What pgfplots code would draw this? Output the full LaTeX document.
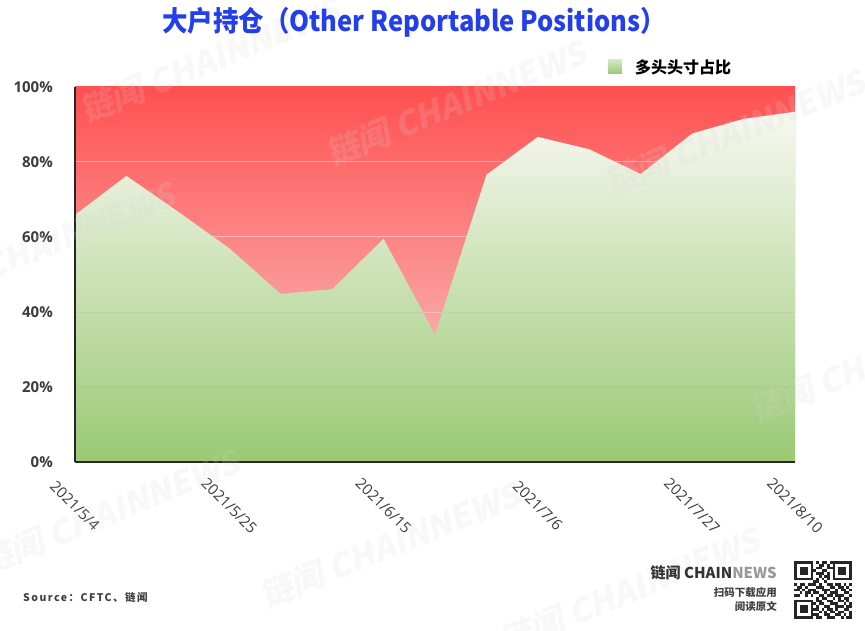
\documentclass[border=0pt]{standalone}
\usepackage{fontspec}
\usepackage{graphicx}
\usepackage{pgfplots}
\pgfplotsset{compat=1.18}
\setmainfont{Open Sans}
\newfontfamily\cjk{Noto Sans CJK SC}
\newfontfamily\srcfont{Noto Sans CJK SC}[LetterSpace=14]
\newfontfamily\wmfont{Noto Sans CJK SC}[FakeSlant=0.2]

\definecolor{titleblue}{RGB}{35,62,235}
\definecolor{redtop}{RGB}{255,80,80}
\definecolor{redbot}{RGB}{247,212,212}
\definecolor{greentop}{RGB}{248,248,241}
\definecolor{greenbot}{RGB}{154,201,116}
\definecolor{ticktext}{RGB}{60,60,60}
\definecolor{wm}{RGB}{215,215,215}

% weekly share of long positions (%)
\pgfplotstableread{
idx long
0  65.9
1  76.3
2  66.8
3  57.0
4  44.8
5  46.1
6  59.5
7  34.0
8  76.6
9  86.7
10 83.4
11 76.8
12 87.6
13 91.5
14 93.4
}\longdata

\pgfplotstableread{
idx total
0  100
14 100
}\totaldata

% QR-style module grid
\newcount\qrc
\newcount\qrr
\def\qm{2.76}
\def\qrparse#1{\ifx#1\relax\else
  \if1#1\fill (794+\the\qrc*\qm, 69-\the\qrr*\qm) rectangle ++(\qm,-\qm);\fi
  \advance\qrc by 1 \expandafter\qrparse\fi}
\newcommand\qrrow[1]{\qrc=0 \qrparse#1\relax\advance\qrr by 1 }

\begin{document}
\begin{tikzpicture}[x=1pt,y=1pt]
\fill[white] (0,0) rectangle (865,630);
\path[use as bounding box] (0,0) rectangle (865,630);

\begin{axis}[
  at={(75pt,168pt)}, anchor=south west,
  scale only axis, width=720pt, height=375pt,
  xmin=0, xmax=14, ymin=0, ymax=100,
  axis x line*=bottom, axis y line*=left,
  axis line style={line width=1.6pt, color=black!85, -},
  axis on top,
  major tick length=0pt,
  xtick={0,3,6,9,12,14},
  xticklabels={2021/5/4,2021/5/25,2021/6/15,2021/7/6,2021/7/27,2021/8/10},
  xticklabel style={yshift=-44pt, rotate=-45, anchor=center, inner sep=0pt,
    font=\fontsize{15}{15}\selectfont, text=ticktext},
  ytick={0,20,40,60,80,100},
  yticklabel={\pgfmathprintnumber{\tick}\%},
  yticklabel style={anchor=east, inner sep=0pt, xshift=-22pt,
    font=\bfseries\fontsize{15}{15}\selectfont, text=ticktext},
  /pgf/number format/assume math mode=true,
]
% short side fills the full height behind the long share
\addplot[draw=none, top color=redtop, bottom color=redbot]
  table[x=idx, y=total]{\totaldata} \closedcycle;
% horizontal grid lines
\pgfplotsinvokeforeach{20,40,60,80}{
  \addplot[white, opacity=0.4, line width=1pt] coordinates {(0,#1) (14,#1)};
}
% long share
\addplot[draw=none, top color=greentop, bottom color=greenbot]
  table[x=idx, y=long]{\longdata} \closedcycle;
% faint grid lines across the long share
\pgfplotsinvokeforeach{20,40}{
  \addplot[black, opacity=0.04, line width=1pt] coordinates {(0,#1) (14,#1)};
}
\end{axis}

% watermarks
\begin{scope}[opacity=0.17, wm]
\foreach \px/\py in {210/570, 456/527, 735/498, 45/385, 880/270, 110/118, 390/85, 630/40}{
  \node[rotate=22, font=\wmfont\bfseries\fontsize{33}{33}\selectfont] at (\px,\py) {链闻 CHAINNEWS};
}
\end{scope}

% title
\node[text=titleblue, font=\cjk\bfseries\fontsize{28}{28}\selectfont] at (414,608)
  {\scalebox{0.91}[1]{大户持仓（Other Reportable Positions）}};

% legend
\shade[top color=greenbot!45!white, bottom color=greenbot] (608,556) rectangle (622,570);
\node[anchor=west, inner sep=0pt, font=\cjk\bfseries\fontsize{16}{16}\selectfont] at (635,563) {多头头寸占比};

% source
\node[anchor=west, inner sep=0pt, text=black!75, font=\srcfont\bfseries\fontsize{10.5}{10.5}\selectfont] at (23,32) {Source：CFTC、链闻};

% brand block
\node[anchor=east, inner sep=0pt, font=\cjk\bfseries\fontsize{15}{15}\selectfont] at (777,57)
  {\textcolor{black!80}{链闻 CHAIN}\textcolor{black!40}{NEWS}};
\node[anchor=east, inner sep=0pt, text=black!75, font=\cjk\bfseries\fontsize{10.5}{10.5}\selectfont] at (777,38) {扫码下载应用};
\node[anchor=east, inner sep=0pt, text=black!75, font=\cjk\bfseries\fontsize{10.5}{10.5}\selectfont] at (777,24) {阅读原文};

\begin{scope}[black!85]
\qrr=0
\qrrow{111111101011011111111}
\qrrow{100000100110101000001}
\qrrow{101110101100111011101}
\qrrow{101110110011001011101}
\qrrow{101110101110101011101}
\qrrow{100000100101101000001}
\qrrow{111111101010101111111}
\qrrow{000000011001000000000}
\qrrow{101101110100110110101}
\qrrow{011010001110011011010}
\qrrow{110101110011100101101}
\qrrow{001011011001011100110}
\qrrow{110010100110110111001}
\qrrow{000000001011001010110}
\qrrow{111111101100110011010}
\qrrow{100000110110011100101}
\qrrow{101110101001100111011}
\qrrow{101110111010110100110}
\qrrow{101110100101011011001}
\qrrow{100000111001100110101}
\qrrow{111111101100111001011}
\end{scope}
\end{tikzpicture}
\end{document}
